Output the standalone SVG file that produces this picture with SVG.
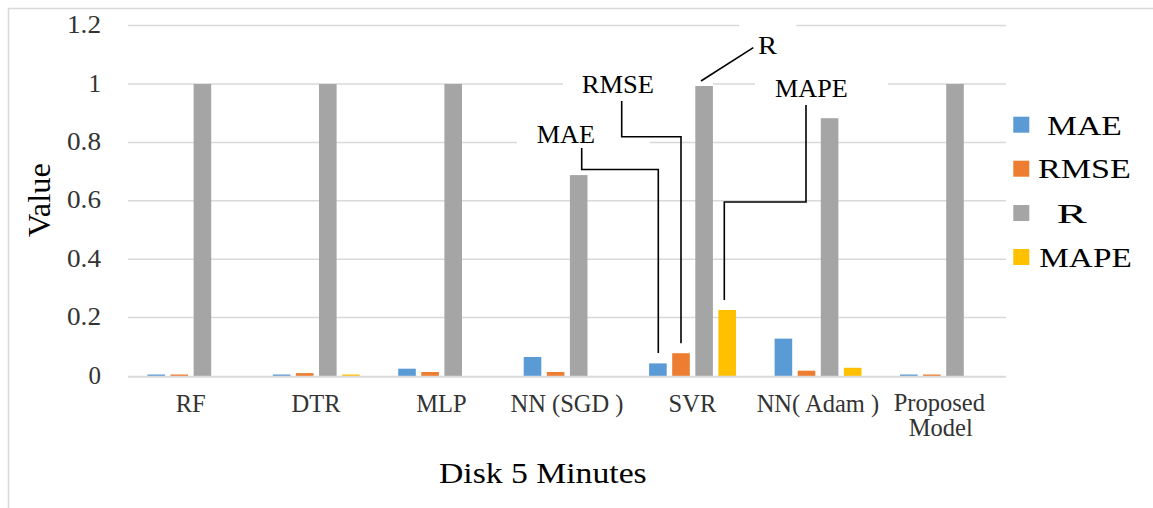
<svg xmlns="http://www.w3.org/2000/svg" width="1153" height="508" viewBox="0 0 1153 508">
<style>
text{font-family:"Liberation Serif","Times New Roman",serif}
.grid{stroke:#d9d9d9;stroke-width:1.5;fill:none}
.tick{font-size:25px;fill:#333;text-anchor:end}
.cat{font-size:24.5px;fill:#333;text-anchor:middle}
.mae{fill:#5b9bd5}.rmse{fill:#ed7d31}.r{fill:#a5a5a5}.mape{fill:#ffc000}
.lead{stroke:#000;stroke-width:1.6;fill:none}
.call{font-size:26px;fill:#000}
.leg{font-size:28px;fill:#000}
</style>
<rect width="1153" height="508" fill="#fff"/>
<g id="frame">
<line class="grid" x1="8" y1="8.5" x2="1153" y2="8.5"/>
<line class="grid" x1="8.5" y1="8" x2="8.5" y2="508"/>
</g>
<g id="gridlines">
<path class="grid" d="M128 25.6H739M796 25.6H1006M128 84H563M713 84H755M888 84H1006M128 142.4H517M650 142.4H1006M128 200.8H1006M128 259.2H1006M128 317.6H1006"/>
</g>
<g id="y-axis">
<text class="tick" x="101" y="33.3" textLength="34" lengthAdjust="spacingAndGlyphs">1.2</text>
<text class="tick" x="101" y="91.7">1</text>
<text class="tick" x="101" y="150" textLength="34" lengthAdjust="spacingAndGlyphs">0.8</text>
<text class="tick" x="101" y="208.4" textLength="34" lengthAdjust="spacingAndGlyphs">0.6</text>
<text class="tick" x="101" y="266.8" textLength="34" lengthAdjust="spacingAndGlyphs">0.4</text>
<text class="tick" x="101" y="325.2" textLength="34" lengthAdjust="spacingAndGlyphs">0.2</text>
<text class="tick" x="101" y="383.5">0</text>
<text transform="translate(49.5,200) rotate(-90)" text-anchor="middle" font-size="31" fill="#000" textLength="74" lengthAdjust="spacingAndGlyphs">Value</text>
</g>
<g id="bars">
<g id="RF">
<rect class="mae" x="147.4" y="374.5" width="17.6" height="1.5"/>
<rect class="rmse" x="170.5" y="374.5" width="17.6" height="1.5"/>
<rect class="r" x="193.6" y="84" width="17.6" height="292"/>
</g>
<g id="DTR">
<rect class="mae" x="272.8" y="374.5" width="17.6" height="1.5"/>
<rect class="rmse" x="295.9" y="373.1" width="17.6" height="2.9"/>
<rect class="r" x="319" y="84" width="17.6" height="292"/>
<rect class="mape" x="342.1" y="374.5" width="17.6" height="1.5"/>
</g>
<g id="MLP">
<rect class="mae" x="398.2" y="368.7" width="17.6" height="7.3"/>
<rect class="rmse" x="421.3" y="372" width="17.6" height="4"/>
<rect class="r" x="444.4" y="84" width="17.6" height="292"/>
</g>
<g id="NN-SGD">
<rect class="mae" x="523.7" y="357" width="17.6" height="19"/>
<rect class="rmse" x="546.8" y="372" width="17.6" height="4"/>
<rect class="r" x="569.9" y="175.1" width="17.6" height="200.9"/>
</g>
<g id="SVR">
<rect class="mae" x="649.1" y="363.4" width="17.6" height="12.6"/>
<rect class="rmse" x="672.2" y="353.2" width="17.6" height="22.8"/>
<rect class="r" x="695.3" y="86" width="17.6" height="290"/>
<rect class="mape" x="718.4" y="310" width="17.6" height="66"/>
</g>
<g id="NN-Adam">
<rect class="mae" x="774.6" y="338.6" width="17.6" height="37.4"/>
<rect class="rmse" x="797.7" y="370.7" width="17.6" height="5.3"/>
<rect class="r" x="820.8" y="118.2" width="17.6" height="257.8"/>
<rect class="mape" x="843.9" y="367.8" width="17.6" height="8.2"/>
</g>
<g id="Proposed">
<rect class="mae" x="900" y="374.5" width="17.6" height="1.5"/>
<rect class="rmse" x="923.1" y="374.5" width="17.6" height="1.5"/>
<rect class="r" x="946.2" y="84" width="17.6" height="292"/>
</g>
</g>
<g id="x-axis">
<line x1="128" y1="376.7" x2="1006" y2="376.7" stroke="#d9d9d9" stroke-width="2"/>
<text class="cat" x="190.7" y="411.5">RF</text>
<text class="cat" x="316.1" y="411.5">DTR</text>
<text class="cat" x="441.5" y="411.5">MLP</text>
<text class="cat" x="567" y="411.5">NN (SGD )</text>
<text class="cat" x="692.4" y="411.5">SVR</text>
<text class="cat" x="817.9" y="411.5">NN( Adam )</text>
<text class="cat" x="939.3" y="410.5">Proposed</text>
<text class="cat" x="940.8" y="435.5">Model</text>
<text x="439" y="483.3" font-size="30" fill="#000" textLength="207.7" lengthAdjust="spacingAndGlyphs">Disk 5 Minutes</text>
</g>
<g id="connectors">
<polyline class="lead" points="581.7,148 581.7,169.5 658.3,169.5 658.3,353"/>
<polyline class="lead" points="621.7,101 621.7,136.7 681,136.7 681,343.3"/>
<line class="lead" x1="701" y1="81" x2="753.3" y2="47.7"/>
<polyline class="lead" points="806,105 806,202 724.3,202 724.3,300"/>
</g>
<g id="label-MAE"><text class="call" x="536.7" y="143.3" textLength="58.3" lengthAdjust="spacingAndGlyphs">MAE</text></g>
<g id="label-RMSE"><text class="call" x="581.7" y="93.3" textLength="72.3" lengthAdjust="spacingAndGlyphs">RMSE</text></g>
<g id="label-R"><text class="call" x="758" y="54.3" textLength="19" lengthAdjust="spacingAndGlyphs">R</text></g>
<g id="label-MAPE"><text class="call" x="775" y="97.3" textLength="72.7" lengthAdjust="spacingAndGlyphs">MAPE</text></g>
<g id="legend">
<rect class="mae" x="1013.3" y="116.7" width="16" height="16"/>
<text class="leg" x="1047" y="134.5" textLength="74.7" lengthAdjust="spacingAndGlyphs">MAE</text>
<rect class="rmse" x="1013.3" y="160.7" width="16" height="16"/>
<text class="leg" x="1038" y="178.2" textLength="92.7" lengthAdjust="spacingAndGlyphs">RMSE</text>
<rect class="r" x="1013.3" y="205" width="16" height="16"/>
<text class="leg" x="1056.7" y="222.6" textLength="30" lengthAdjust="spacingAndGlyphs">R</text>
<rect class="mape" x="1013.3" y="249" width="16" height="16"/>
<text class="leg" x="1039.3" y="266.6" textLength="92.4" lengthAdjust="spacingAndGlyphs">MAPE</text>
</g>
</svg>
